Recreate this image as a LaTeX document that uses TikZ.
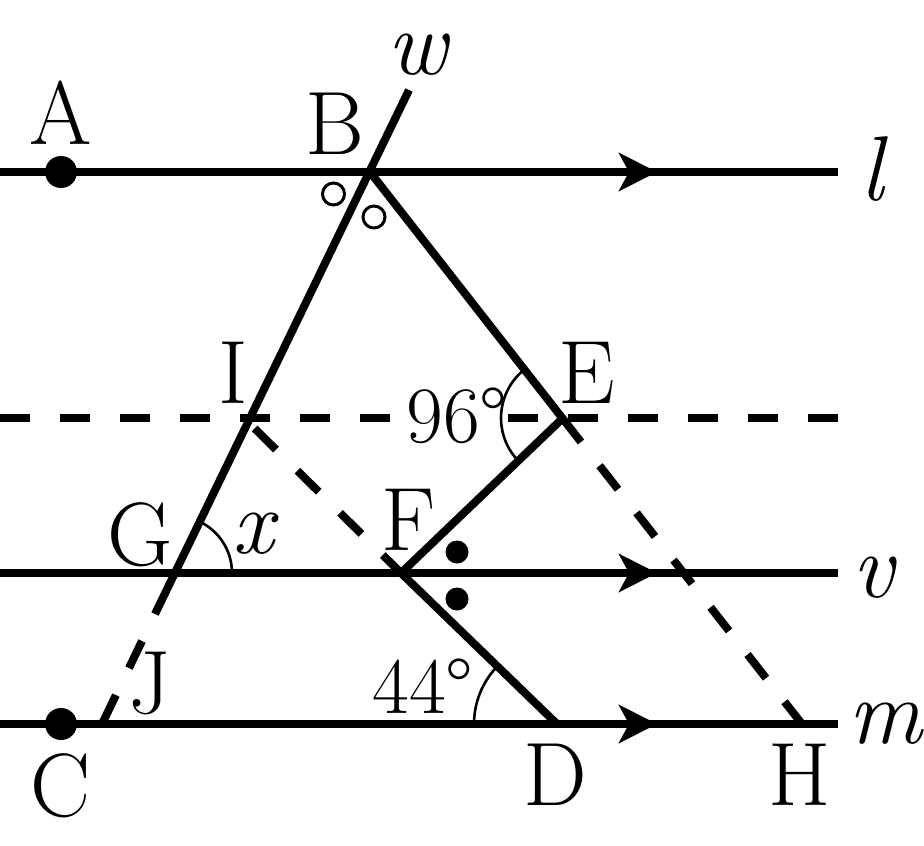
\documentclass[tikz,border=0pt]{standalone}
\usetikzlibrary{arrows.meta,angles}
\begin{document}
\begin{tikzpicture}[x=0.5pt,y=0.5pt,
  ln/.style={line width=4pt},
  dsh/.style={line width=4pt, dash pattern=on 15pt off 15pt},
  gapdsh/.style={line width=4pt, dash pattern=on 15pt off 15pt, dash phase=15pt},
  arr/.style={line width=4pt,-{Stealth[length=19pt,width=19pt,inset=5pt]}},
  lbl/.style={inner sep=0pt, anchor=base, font=\fontsize{45}{50}\selectfont},
  ilbl/.style={inner sep=0pt, anchor=base, font=\fontsize{46}{50}\selectfont\itshape},
  num/.style={inner sep=0pt, anchor=base, font=\fontsize{40}{44}\selectfont},
  dotm/.style={fill, circle, inner sep=0pt, minimum size=16pt},
  smalldot/.style={fill, circle, inner sep=0pt, minimum size=11.5pt},
  ring/.style={draw, circle, inner sep=0pt, minimum size=11pt, line width=1.5pt},
  angarc/.style={draw, line width=1.3pt},
  ]
\useasboundingbox (0,0) rectangle (924,-845);
% coordinates
\coordinate (L0) at (0,-172); \coordinate (Lt) at (657,-172); \coordinate (L1) at (838,-172);
\coordinate (K0) at (0,-418); \coordinate (Kl) at (395,-418);
\coordinate (Kr) at (505,-418); \coordinate (K1) at (838,-418);
\coordinate (V0) at (0,-573); \coordinate (Vt) at (657,-573); \coordinate (V1) at (838,-573);
\coordinate (M0) at (0,-724); \coordinate (Mt) at (657,-724); \coordinate (M1) at (838,-724);
\coordinate (W) at (409,-90); \coordinate (B) at (370,-172); \coordinate (I) at (250,-418);
\coordinate (G) at (175,-573); \coordinate (Ws) at (155,-614); \coordinate (J) at (102,-724);
\coordinate (E) at (563,-418); \coordinate (Ee) at (581,-442); \coordinate (H) at (802,-724);
\coordinate (Id) at (244,-418); \coordinate (F) at (401,-573); \coordinate (D) at (557,-724);
\coordinate (A) at (61,-172); \coordinate (C) at (61,-724);
% parallel lines
\draw[ln] (L0) -- (L1); \draw[arr] (L0) -- (Lt);
\draw[dsh] (K0) -- (Kl); \draw[dsh] (K1) -- (Kr);
\draw[ln] (V0) -- (V1); \draw[arr] (V0) -- (Vt);
\draw[ln] (M0) -- (M1); \draw[arr] (M0) -- (Mt);
% transversal w
\draw[ln] (W) -- (Ws);
\draw[gapdsh] (Ws) -- (J);
% B-E-H
\draw[ln] (B) -- (Ee);
\draw[gapdsh] (Ee) -- (H);
% E-F, I-F, F-D
\draw[ln] (E) -- (F);
\draw[line width=4pt, dash pattern=on 15pt off 15pt, dash phase=22.5pt] (Id) -- (F);
\draw[ln] (F) -- (D);
% angle arcs
\pic[angarc, angle radius=31pt] {angle=B--E--F};
\pic[angarc, angle radius=28.5pt] {angle=F--G--B};
\pic[angarc, angle radius=41.5pt] {angle=F--D--C};
% marks
\node[dotm] (dA) at (A) {};
\node[dotm] (dC) at (C) {};
\node[ring] (r1) at (333.5,-194) {};
\node[ring] (r2) at (374,-217) {};
\node[smalldot] (s1) at (457,-552) {};
\node[smalldot] (s2) at (457,-599) {};
% labels
\node[lbl] (tA) at (61,-145) {A};
\node[lbl] (tB) at (335,-155) {B};
\node[ilbl] (tw) at (417,-75) {w};
\node[ilbl] (tl) at (872,-200) {l};
\node[lbl] (tI) at (233,-403) {I};
\node[lbl] (tE) at (587,-403) {E};
\node[num] (t96) at (457,-442) {96°};
\node[lbl] (tF) at (409,-550) {F};
\node[lbl] (tG) at (140,-565) {G};
\node[ilbl] (tx) at (253,-553) {x};
\node[ilbl] (tv) at (873,-597) {v};
\node[lbl] (tJ) at (150,-713) {J};
\node[num] (t44) at (423,-713) {44°};
\node[ilbl] (tm) at (885,-743) {m};
\node[lbl] (tC) at (61,-816) {C};
\node[lbl] (tD) at (555,-805) {D};
\node[lbl] (tH) at (800,-805) {H};
\end{tikzpicture}
\end{document}
